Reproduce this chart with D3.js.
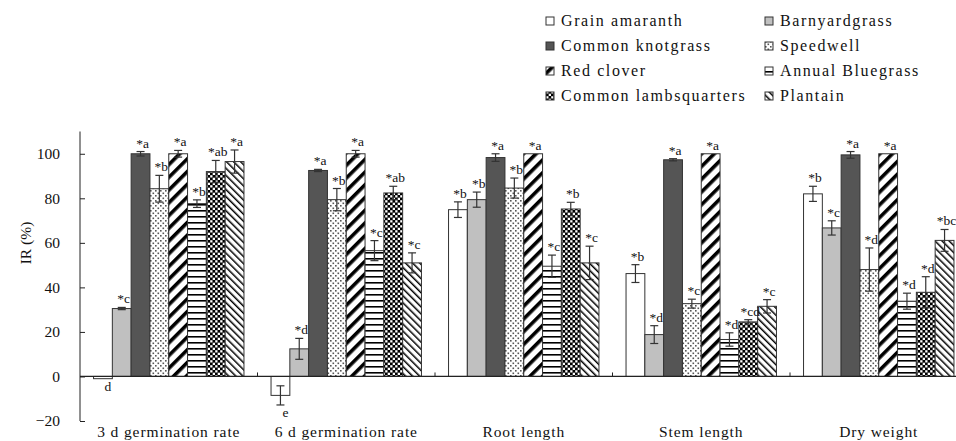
<!DOCTYPE html>
<html>
<head>
<meta charset="utf-8">
<script src="https://d3js.org/d3.v7.min.js"></script>
<style>
  body { margin: 0; background: #fff; }
  text { font-family: "Liberation Serif", "Times New Roman", serif; fill: #111; }
</style>
</head>
<body>
<div id="chart"></div>
<script>

// groups on the x axis and the eight species
var categories = ["3 d germination rate", "6 d germination rate", "Root length", "Stem length", "Dry weight"];
var species = ["Grain amaranth", "Barnyardgrass", "Common knotgrass", "Speedwell", "Red clover", "Annual Bluegrass", "Common lambsquarters", "Plantain"];

// IR (%) per species, one value per category
var grainAmaranth = [-1, -8.5, 74.9, 46.2, 82];
var barnyardgrass = [30.5, 12.4, 79.4, 18.8, 66.7];
var commonKnotgrass = [100, 92.5, 98.3, 97.3, 99.5];
var speedwell = [84.3, 79.4, 84.6, 32.7, 48];
var redClover = [100, 100, 100, 100, 100];
var annualBluegrass = [77.6, 56.5, 49.5, 16.6, 33.8];
var lambsquarters = [92, 82.4, 75.2, 24.5, 37.8];
var plantain = [96.5, 51, 51, 31.5, 61.1];

// error bars (+/-)
var grainAmaranthErr = [0, 4.3, 3.5, 4, 3.4];
var barnyardgrassErr = [0.5, 4.7, 3.4, 4, 3.2];
var commonKnotgrassErr = [1, 0.5, 1.7, 0.5, 1.5];
var speedwellErr = [6, 5, 4.5, 2, 9.7];
var redCloverErr = [1.5, 1.5, 0, 0, 0];
var annualBluegrassErr = [1.7, 4.5, 5, 3, 3.6];
var lambsquartersErr = [5, 3, 3, 1, 7];
var plantainErr = [5.2, 4.5, 7.5, 3, 4.9];

// significance letters
var grainAmaranthSig = ["d", "e", "*b", "*b", "*b"];
var barnyardgrassSig = ["*c", "*d", "*b", "*d", "*c"];
var commonKnotgrassSig = ["*a", "*a", "*a", "*a", "*a"];
var speedwellSig = ["*b", "*b", "*b", "*c", "*d"];
var redCloverSig = ["*a", "*a", "*a", "*a", "*a"];
var annualBluegrassSig = ["*b", "*c", "*c", "*d", "*d"];
var lambsquartersSig = ["*ab", "*ab", "*b", "*cd", "*d"];
var plantainSig = ["*a", "*c", "*c", "*c", "*bc"];

var yTicks = [-20, 0, 20, 40, 60, 80, 100];

var allValues = [grainAmaranth, barnyardgrass, commonKnotgrass, speedwell, redClover, annualBluegrass, lambsquarters, plantain];
var allErr = [grainAmaranthErr, barnyardgrassErr, commonKnotgrassErr, speedwellErr, redCloverErr, annualBluegrassErr, lambsquartersErr, plantainErr];
var allSig = [grainAmaranthSig, barnyardgrassSig, commonKnotgrassSig, speedwellSig, redCloverSig, annualBluegrassSig, lambsquartersSig, plantainSig];

// flat table for the bars
var rows = [];
categories.forEach(function(c, ci) {
  species.forEach(function(s, si) {
    rows.push({cat: c, sp: s, si: si, value: allValues[si][ci], err: allErr[si][ci], sig: allSig[si][ci]});
  });
});

var width = 956, height = 441;
var plotLeft = 80, plotRight = 967.5, plotTop = 131.5, plotBottom = 421;

var svg = d3.select("#chart").append("svg")
    .attr("width", width)
    .attr("height", height);

// fills, plain and hatched
var defs = svg.append("defs");
var fills = ["#ffffff", "#c0c0c0", "#555555", "url(#dots)", "url(#diagUp)", "url(#horiz)", "url(#checks)", "url(#diagDown)"];

var p = defs.append("pattern").attr("id", "dots").attr("patternUnits", "userSpaceOnUse").attr("width", 5).attr("height", 5);
p.append("rect").attr("width", 5).attr("height", 5).attr("fill", "#fff");
p.append("rect").attr("x", 0).attr("y", 0).attr("width", 1.6).attr("height", 1.6).attr("fill", "#555");
p.append("rect").attr("x", 2.5).attr("y", 2.5).attr("width", 1.6).attr("height", 1.6).attr("fill", "#555");

p = defs.append("pattern").attr("id", "diagUp").attr("patternUnits", "userSpaceOnUse").attr("width", 9).attr("height", 9)
    .attr("patternTransform", "rotate(45)");
p.append("rect").attr("width", 9).attr("height", 9).attr("fill", "#fff");
p.append("rect").attr("width", 3.6).attr("height", 9).attr("fill", "#000");

p = defs.append("pattern").attr("id", "horiz").attr("patternUnits", "userSpaceOnUse").attr("width", 6).attr("height", 6);
p.append("rect").attr("width", 6).attr("height", 6).attr("fill", "#fff");
p.append("rect").attr("width", 6).attr("height", 1.6).attr("fill", "#000");

p = defs.append("pattern").attr("id", "checks").attr("patternUnits", "userSpaceOnUse").attr("width", 5).attr("height", 5);
p.append("rect").attr("width", 5).attr("height", 5).attr("fill", "#000");
p.append("rect").attr("x", 0.2).attr("y", 0.2).attr("width", 2.3).attr("height", 2.3).attr("fill", "#fff");
p.append("rect").attr("x", 2.7).attr("y", 2.7).attr("width", 2.3).attr("height", 2.3).attr("fill", "#fff");

p = defs.append("pattern").attr("id", "diagDown").attr("patternUnits", "userSpaceOnUse").attr("width", 5).attr("height", 5)
    .attr("patternTransform", "rotate(-45)");
p.append("rect").attr("width", 5).attr("height", 5).attr("fill", "#fff");
p.append("rect").attr("width", 1.5).attr("height", 5).attr("fill", "#000");

// scales
var x0 = d3.scaleBand().domain(categories).range([plotLeft, plotRight]).padding(0);
var x1 = d3.scaleBand().domain(species).range([0, x0.bandwidth()]).paddingInner(0).paddingOuter(0.72);
var y = d3.scaleLinear().domain([-20, 110]).range([plotBottom, plotTop]);

// y axis with inward ticks
var yAxis = svg.append("g")
    .attr("transform", "translate(" + plotLeft + ",0)")
    .call(d3.axisRight(y).tickValues(yTicks).tickSize(5).tickFormat(d3.format("d")));
yAxis.select(".domain").attr("stroke", "#222").attr("d", "M0," + plotTop + "V" + plotBottom);
yAxis.selectAll(".tick line").attr("stroke", "#222");
yAxis.selectAll(".tick text")
    .attr("x", -20)
    .attr("text-anchor", "end")
    .style("font-family", "Liberation Serif")
    .style("font-size", "15.5px")
    .attr("fill", "#111");

svg.append("text")
    .attr("transform", "translate(31,243) rotate(-90)")
    .attr("text-anchor", "middle")
    .style("font-size", "15.5px")
    .text("IR (%)");

// bars
var g = svg.append("g");
g.selectAll("rect.bar")
  .data(rows)
  .enter().append("rect")
    .attr("class", "bar")
    .attr("x", function(d) { return x0(d.cat) + x1(d.sp); })
    .attr("y", function(d) { return y(Math.max(0, d.value)); })
    .attr("width", x1.bandwidth())
    .attr("height", function(d) { return Math.abs(y(d.value) - y(0)); })
    .attr("fill", function(d) { return fills[d.si]; })
    .attr("stroke", "#333")
    .attr("stroke-width", 1);

// error bars
var eb = g.selectAll("g.err")
  .data(rows.filter(function(d) { return d.err > 0; }))
  .enter().append("g")
    .attr("class", "err")
    .attr("stroke", "#333")
    .attr("stroke-width", 1.2);
eb.append("line")
    .attr("x1", function(d) { return x0(d.cat) + x1(d.sp) + x1.bandwidth() / 2; })
    .attr("x2", function(d) { return x0(d.cat) + x1(d.sp) + x1.bandwidth() / 2; })
    .attr("y1", function(d) { return y(d.value - d.err); })
    .attr("y2", function(d) { return y(d.value + d.err); });
[-1, 1].forEach(function(k) {
  eb.append("line")
    .attr("x1", function(d) { return x0(d.cat) + x1(d.sp) + x1.bandwidth() / 2 - 4; })
    .attr("x2", function(d) { return x0(d.cat) + x1(d.sp) + x1.bandwidth() / 2 + 4; })
    .attr("y1", function(d) { return y(d.value + k * d.err); })
    .attr("y2", function(d) { return y(d.value + k * d.err); });
});

// zero line and category ticks
svg.append("line")
    .attr("x1", plotLeft).attr("x2", width)
    .attr("y1", y(0)).attr("y2", y(0))
    .attr("stroke", "#222").attr("stroke-width", 1.2);
svg.selectAll("line.ctick")
  .data(categories.slice(1))
  .enter().append("line")
    .attr("class", "ctick")
    .attr("x1", function(d) { return x0(d); })
    .attr("x2", function(d) { return x0(d); })
    .attr("y1", y(0)).attr("y2", y(0) - 4)
    .attr("stroke", "#222");

// significance letters
g.selectAll("text.sig")
  .data(rows)
  .enter().append("text")
    .attr("class", "sig")
    .attr("text-anchor", "middle")
    .style("font-size", "13.5px")
    .attr("x", function(d) { return x0(d.cat) + x1(d.sp) + x1.bandwidth() / 2 + (d.value < 0 ? 5 : 2); })
    .attr("y", function(d) { return d.value < 0 ? y(d.value - d.err) + 12 : y(d.value + d.err) - 4; })
    .text(function(d) { return d.sig; });

// category labels
svg.selectAll("text.cat")
  .data(categories)
  .enter().append("text")
    .attr("class", "cat")
    .attr("text-anchor", "middle")
    .attr("x", function(d) { return x0(d) + x0.bandwidth() / 2; })
    .attr("y", 437)
    .style("font-size", "15.5px")
    .style("letter-spacing", "0.9px")
    .text(function(d) { return d; });

// legend, two columns
var legend = svg.selectAll("g.leg")
  .data(species)
  .enter().append("g")
    .attr("class", "leg")
    .attr("transform", function(d, i) { return "translate(" + (i % 2 ? 765 : 546) + "," + (21 + 25 * Math.floor(i / 2)) + ")"; });
legend.append("rect")
    .attr("x", 0).attr("y", -4)
    .attr("width", 8).attr("height", 8)
    .attr("fill", function(d, i) { return fills[i]; })
    .attr("stroke", "#333");
legend.append("text")
    .attr("x", 15).attr("y", 5)
    .style("font-size", "16px")
    .style("letter-spacing", "1.6px")
    .text(function(d) { return d; });

</script>
</body>
</html>
